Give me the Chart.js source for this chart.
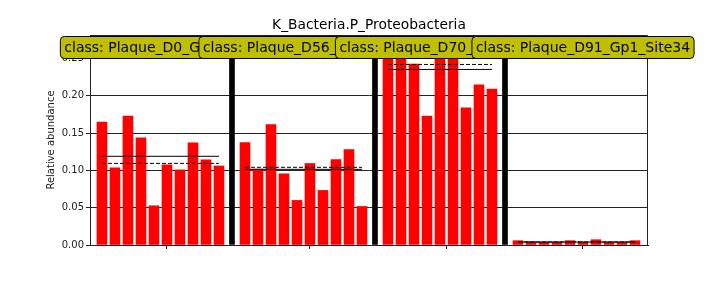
<!DOCTYPE html>
<html lang="en">
<head>
    <meta charset="UTF-8">
    <title>K_Bacteria.P_Proteobacteria</title>
    <script src="https://cdn.jsdelivr.net/npm/chart.js@4/dist/chart.umd.min.js"></script>
    <style>
        html, body { margin: 0; padding: 0; background: #fff; }
        #wrap { width: 720px; height: 288px; }
    </style>
</head>
<body>
    <div id="wrap"><canvas id="abundanceChart" width="720" height="288"></canvas></div>

    <script>
        const chartTitle = "K_Bacteria.P_Proteobacteria";
        const groupLabels = [
            "class: Plaque_D0_Gp1_Site34",
            "class: Plaque_D56_Gp1_Site34",
            "class: Plaque_D70_Gp1_Site34",
            "class: Plaque_D91_Gp1_Site34"
        ];
        const d0Values  = [0.165, 0.1035, 0.173, 0.1437, 0.0526, 0.1075, 0.1008, 0.137, 0.1142, 0.106];
        const d56Values = [0.1375, 0.1018, 0.1616, 0.0955, 0.0598, 0.1093, 0.0732, 0.1147, 0.128, 0.0517];
        const d70Values = [0.30, 0.31, 0.2428, 0.173, 0.30, 0.29, 0.184, 0.2147, 0.2093];
        const d91Values = [0.0058, 0.0044, 0.004, 0.004, 0.0058, 0.004, 0.0071, 0.004, 0.004, 0.0058];
        const meanValues   = [0.119, 0.1015, 0.2355, 0.004];
        const medianValues = [0.1095, 0.1042, 0.2422, 0.004];
        const yTicks = [0, 0.05, 0.10, 0.15, 0.20, 0.25];
        const yMax = 0.2817;

        const groups = [d0Values, d56Values, d70Values, d91Values];

        // lay groups out one slot per bar, one empty slot as separator between groups
        const bars = [], separators = [], meanPts = [], medianPts = [], centers = [];
        let slot = 0;
        groups.forEach((vals, g) => {
            const start = slot;
            vals.forEach(v => { bars.push({x: slot, y: v}); slot++; });
            const end = slot - 1;
            centers.push(start + vals.length / 2);
            meanPts.push({x: start, y: meanValues[g]}, {x: end, y: meanValues[g]}, {x: end + 0.5, y: null});
            medianPts.push({x: start, y: medianValues[g]}, {x: end, y: medianValues[g]}, {x: end + 0.5, y: null});
            if (g < groups.length - 1) { separators.push({x: slot, y: yMax}); slot++; }
        });

        const FONT = "'DejaVu Sans', sans-serif";

        const decorations = {
            id: "decorations",
            afterDraw(chart) {
                const {ctx, chartArea: a, scales} = chart;
                ctx.save();
                // top and right spines
                ctx.strokeStyle = "#222";
                ctx.lineWidth = 1;
                ctx.beginPath();
                ctx.moveTo(a.left, a.top + 0.5);
                ctx.lineTo(a.right - 0.5, a.top + 0.5);
                ctx.lineTo(a.right - 0.5, a.bottom);
                ctx.stroke();
                // title
                ctx.fillStyle = "#000";
                ctx.font = "13.8px " + FONT;
                ctx.textAlign = "center";
                ctx.textBaseline = "alphabetic";
                ctx.fillText(chartTitle, (a.left + a.right) / 2, 29);
                // class boxes
                ctx.font = "14px " + FONT;
                groupLabels.forEach((txt, i) => {
                    const cx = scales.x.getPixelForValue(centers[i]);
                    const w = ctx.measureText(txt).width + 8;
                    const h = 22, y = a.top + 1.5;
                    const x = cx - w / 2;
                    ctx.beginPath();
                    ctx.roundRect(x, y, w, h, 4);
                    ctx.fillStyle = "#bfbf00";
                    ctx.fill();
                    ctx.strokeStyle = "#000";
                    ctx.lineWidth = 1;
                    ctx.stroke();
                    ctx.fillStyle = "#000";
                    ctx.textBaseline = "middle";
                    ctx.fillText(txt, cx, y + h / 2 + 1);
                });
                ctx.restore();
            }
        };

        new Chart(document.getElementById("abundanceChart"), {
            type: "bar",
            data: {
                datasets: [
                    {type: "line", data: meanPts, borderColor: "#000", borderWidth: 1, pointRadius: 0, spanGaps: false, order: 0},
                    {type: "line", data: medianPts, borderColor: "#000", borderWidth: 1, borderDash: [4, 2], pointRadius: 0, spanGaps: false, order: 0},
                    {data: bars, backgroundColor: "#ff0000", barThickness: 10, grouped: false, order: 2},
                    {data: separators, backgroundColor: "#000", barThickness: 5, grouped: false, order: 1}
                ]
            },
            options: {
                responsive: false,
                animation: false,
                layout: {padding: {left: 0, right: 72, top: 35, bottom: 0}},
                plugins: {legend: {display: false}, tooltip: {enabled: false}},
                scales: {
                    x: {
                        type: "linear",
                        offset: false,
                        min: -0.92,
                        max: 42,
                        grid: {offset: false, drawOnChartArea: false, drawTicks: true, tickLength: 4, color: "#222"},
                        border: {display: true, color: "#222"},
                        ticks: {callback: () => ""},
                        afterBuildTicks: s => { s.ticks = centers.map(v => ({value: v})); },
                        afterFit: s => { s.height = 43; }
                    },
                    y: {
                        min: 0,
                        max: yMax,
                        grid: {color: "#222", tickLength: 4},
                        border: {display: true, color: "#222"},
                        ticks: {
                            font: {family: FONT, size: 10},
                            color: "#222",
                            padding: 2,
                            callback: v => v.toFixed(2)
                        },
                        afterBuildTicks: s => { s.ticks = yTicks.map(v => ({value: v})); },
                        title: {display: true, text: "Relative abundance", font: {family: FONT, size: 10}, color: "#222", padding: {top: 45, bottom: 0}},
                        afterFit: s => { s.width = 90; }
                    }
                }
            },
            plugins: [decorations]
        });
    </script>
</body>
</html>
